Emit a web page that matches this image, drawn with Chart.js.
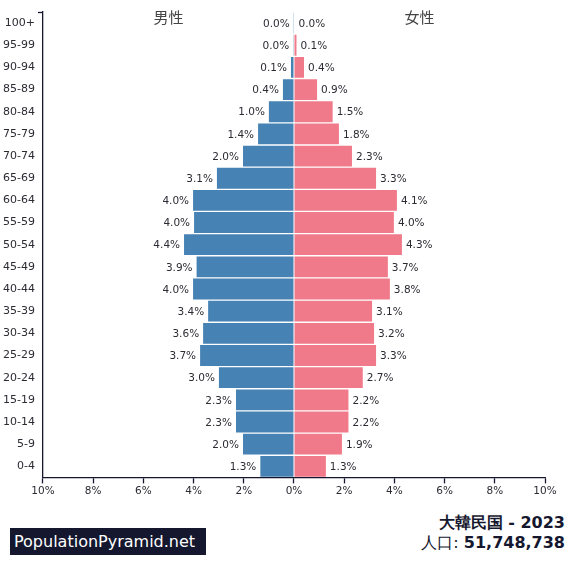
<!DOCTYPE html>
<html>
<head>
<meta charset="utf-8">
<script src="https://cdn.jsdelivr.net/npm/chart.js@4.4.1/dist/chart.umd.min.js"></script>
<style>
  html, body { margin: 0; padding: 0; background: #fff; }
  #wrap { position: relative; width: 575px; height: 581px; font-family: "DejaVu Sans", sans-serif; }
  #box { position: absolute; left: 0; top: 0; width: 575px; height: 500px; }
  .brand {
    position: absolute; left: 10px; top: 528px; width: 196px; height: 27px;
    background: #15172e; color: #fff; font-size: 16px; line-height: 27px;
    padding-left: 4px; box-sizing: border-box;
  }
  .info {
    position: absolute; right: 10px; top: 513px; text-align: right;
    color: #15172e; font-size: 16px; line-height: 20px;
  }
  .info b { font-weight: bold; }
</style>
</head>
<body>
<div id="wrap">
  <div id="box"><canvas id="pyramid"></canvas></div>
  <div class="brand">PopulationPyramid.net</div>
  <div class="info"><b>大韓民国 - 2023</b><br>人口: <b>51,748,738</b></div>
</div>
<script>
// age groups, top to bottom
const ageGroups = ['100+', '95-99', '90-94', '85-89', '80-84', '75-79', '70-74', '65-69',
  '60-64', '55-59', '50-54', '45-49', '40-44', '35-39', '30-34', '25-29',
  '20-24', '15-19', '10-14', '5-9', '0-4'];

// share of total population, %
const male   = [0.01, 0.03, 0.12, 0.44, 1.0, 1.43, 2.03, 3.07, 4.02, 3.98, 4.38, 3.88, 4.02,
  3.42, 3.62, 3.74, 2.99, 2.31, 2.31, 2.03, 1.34];
const female = [0.02, 0.1, 0.4, 0.92, 1.54, 1.79, 2.31, 3.27, 4.1, 3.98, 4.3, 3.74, 3.82,
  3.11, 3.19, 3.27, 2.74, 2.17, 2.17, 1.91, 1.27];

const xTicks = [-10, -8, -6, -4, -2, 0, 2, 4, 6, 8, 10];

const MALE_COL = '#4682b4';
const FEMALE_COL = '#f07a8a';
const TEXT = '#2b2b33';

// value labels at the end of each bar + side titles
const barLabels = {
  id: 'barLabels',
  afterDatasetsDraw(chart) {
    const ctx = chart.ctx;
    ctx.save();
    ctx.font = '10.5px "DejaVu Sans"';
    ctx.fillStyle = TEXT;
    ctx.textBaseline = 'middle';
    chart.data.datasets.forEach((ds, i) => {
      chart.getDatasetMeta(i).data.forEach((bar, j) => {
        const v = Math.abs(ds.data[j]);
        const txt = v.toFixed(1) + '%';
        if (i === 0) {
          ctx.textAlign = 'right';
          ctx.fillText(txt, bar.x - 4, bar.y + 1);
        } else {
          ctx.textAlign = 'left';
          ctx.fillText(txt, bar.x + 4, bar.y + 1);
        }
      });
    });
    const area = chart.chartArea;
    const xs = chart.scales.x;
    ctx.font = '15px "DejaVu Sans", "Noto Sans CJK JP"';
    ctx.textAlign = 'center';
    ctx.fillStyle = '#444';
    ctx.fillText('男性', xs.getPixelForValue(-5), area.top + 7);
    ctx.fillText('女性', xs.getPixelForValue(5), area.top + 7);
    ctx.restore();
  }
};

const barStyle = {
  borderWidth: 0,
  barPercentage: 1,
  categoryPercentage: 0.94
};

new Chart(document.getElementById('pyramid'), {
  type: 'bar',
  data: {
    labels: ageGroups,
    datasets: [
      Object.assign({ label: '男性', data: male.map(v => -v), backgroundColor: MALE_COL }, barStyle),
      Object.assign({ label: '女性', data: female, backgroundColor: FEMALE_COL }, barStyle)
    ]
  },
  options: {
    indexAxis: 'y',
    responsive: true,
    maintainAspectRatio: false,
    animation: false,
    layout: { padding: { left: 0, right: 30, top: 12, bottom: 0 } },
    plugins: { legend: { display: false }, tooltip: { enabled: false } },
    scales: {
      x: {
        min: -10, max: 10,
        afterBuildTicks: axis => { axis.ticks = xTicks.map(v => ({ value: v })); },
        ticks: {
          color: TEXT, font: { size: 10.5, family: 'DejaVu Sans' }, padding: 2,
          maxRotation: 0, autoSkip: false,
          callback: v => Math.abs(v) + '%'
        },
        grid: { drawOnChartArea: false, color: '#15172e', tickLength: 6, tickWidth: 1.3 },
        border: { color: '#15172e', width: 1.3 }
      },
      y: {
        stacked: true,
        ticks: { color: TEXT, font: { size: 11, family: 'DejaVu Sans' }, padding: 3 },
        grid: {
          drawOnChartArea: false, offset: true, tickLength: 5, tickWidth: 1.3,
          color: c => (c.index === 0 ? '#15172e' : 'rgba(0,0,0,0)')
        },
        border: { color: '#15172e', width: 1.3 }
      }
    }
  },
  plugins: [barLabels]
});
</script>
</body>
</html>
